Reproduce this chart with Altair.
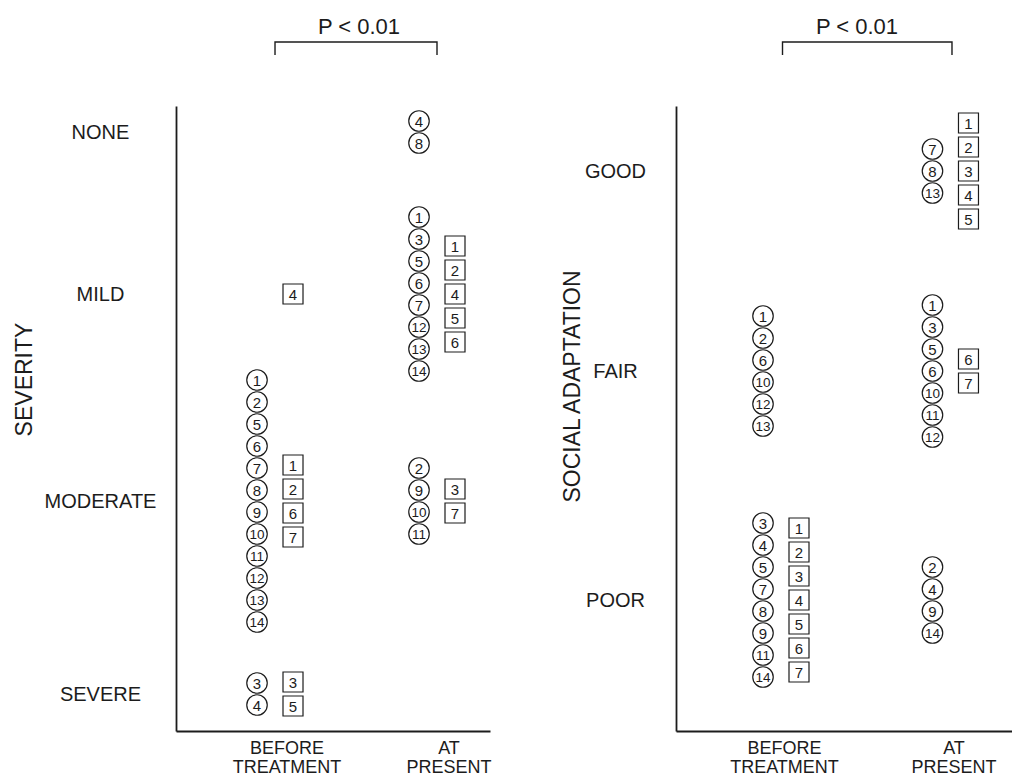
import altair as alt
import pandas as pd

# ---------------- data ----------------
periods = ["BEFORE TREATMENT", "AT PRESENT"]
severity_levels = ["NONE", "MILD", "MODERATE", "SEVERE"]
social_levels = ["GOOD", "FAIR", "POOR"]

circle_ids = list(range(1, 15))
circle_severity_before = ["MODERATE", "MODERATE", "SEVERE", "SEVERE", "MODERATE", "MODERATE", "MODERATE",
                          "MODERATE", "MODERATE", "MODERATE", "MODERATE", "MODERATE", "MODERATE", "MODERATE"]
circle_severity_present = ["MILD", "MODERATE", "MILD", "NONE", "MILD", "MILD", "MILD",
                           "NONE", "MODERATE", "MODERATE", "MODERATE", "MILD", "MILD", "MILD"]
circle_social_before = ["FAIR", "FAIR", "POOR", "POOR", "POOR", "FAIR", "POOR",
                        "POOR", "POOR", "FAIR", "POOR", "FAIR", "FAIR", "POOR"]
circle_social_present = ["FAIR", "POOR", "FAIR", "POOR", "FAIR", "FAIR", "GOOD",
                         "GOOD", "POOR", "FAIR", "FAIR", "FAIR", "GOOD", "POOR"]

square_ids = list(range(1, 8))
square_severity_before = ["MODERATE", "MODERATE", "SEVERE", "MILD", "SEVERE", "MODERATE", "MODERATE"]
square_severity_present = ["MILD", "MILD", "MODERATE", "MILD", "MILD", "MILD", "MODERATE"]
square_social_before = ["POOR", "POOR", "POOR", "POOR", "POOR", "POOR", "POOR"]
square_social_present = ["GOOD", "GOOD", "GOOD", "GOOD", "GOOD", "FAIR", "FAIR"]

p_label = "P < 0.01"
severity_title = "SEVERITY"
social_title = "SOCIAL ADAPTATION"

# ---------------- layout (not data) ----------------
PLOT_H = 625
SEV_ANCHOR = {"NONE": 26, "MILD": 188, "MODERATE": 395, "SEVERE": 588}
SOC_ANCHOR = {"GOOD": 65, "FAIR": 265, "POOR": 494}
SPACING = {"circle": 22, "square": 24}
INK = "#1c1c1c"
FONT = "Liberation Sans"


def build(circ_before, circ_present, sq_before, sq_present, anchors):
    rows = []
    for kind, ids, before, present in [("circle", circle_ids, circ_before, circ_present),
                                       ("square", square_ids, sq_before, sq_present)]:
        for pid, b, p in zip(ids, before, present):
            rows.append(dict(kind=kind, id=pid, period=periods[0], level=b))
            rows.append(dict(kind=kind, id=pid, period=periods[1], level=p))
    df = pd.DataFrame(rows)
    g = df.groupby(["kind", "period", "level"])["id"]
    df["rank"] = g.rank(method="first") - 1
    df["n"] = g.transform("count")
    df["ypos"] = df["level"].map(anchors) + (df["rank"] - (df["n"] - 1) / 2) * df["kind"].map(SPACING)
    df["label"] = df["id"].astype(str)
    return df


def label_expr(anchors):
    expr = "''"
    for name, v in anchors.items():
        expr = f"datum.value == {v} ? '{name}' : ({expr})"
    return expr


def panel(df, anchors, ytitle, width, xscale, x_label_offset, label_pad, title_x, title_y, title_dx):
    x = alt.X("period:N", sort=periods, scale=xscale,
              axis=alt.Axis(title=None, labelExpr="split(datum.label, ' ')", labelAngle=0,
                            labelAlign="center", labelBaseline="top", labelPadding=8,
                            labelFontSize=18, labelLineHeight=19, labelOffset=x_label_offset,
                            labelColor=INK, labelFont=FONT,
                            ticks=False, tickSize=0, domainColor=INK, domainWidth=1.8, grid=False))
    y = alt.Y("ypos:Q", scale=alt.Scale(domain=[0, PLOT_H], reverse=True, nice=False, zero=False),
              axis=alt.Axis(values=list(anchors.values()), labelExpr=label_expr(anchors),
                            labelAlign="center", labelBaseline="middle", labelPadding=label_pad,
                            labelFontSize=20, labelColor=INK, labelFont=FONT, labelOverlap=False,
                            ticks=False, tickSize=0, domainColor=INK, domainWidth=1.8, grid=False,
                            title=ytitle, titleFontSize=23, titleFontWeight="normal", titleFont=FONT,
                            titleColor=INK, titleAngle=270, titleX=title_x, titleY=title_y,
                            titleAlign="center", titleBaseline="middle"))
    xo = alt.XOffset("kind:N", sort=["circle", "square"],
                     scale=alt.Scale(type="point", padding=0.5))
    base = alt.Chart(df)
    symbols = base.mark_point(filled=False, stroke=INK, strokeWidth=1.2, opacity=1).encode(
        x=x, xOffset=xo, y=y,
        shape=alt.Shape("kind:N", scale=alt.Scale(domain=["circle", "square"], range=["circle", "square"]),
                        legend=None),
        size=alt.Size("kind:N", scale=alt.Scale(domain=["circle", "square"], range=[420, 400]), legend=None),
    )
    texts = base.mark_text(baseline="middle", align="center", dy=1, font=FONT, color=INK).encode(
        x=x, xOffset=xo, y=y, text="label:N",
        size=alt.condition("datum.id >= 10", alt.value(13.5), alt.value(15)),
    )
    bracket_df = pd.DataFrame({"period": [periods[0], periods[0], periods[1], periods[1]],
                               "ypos": [-51, -64, -64, -51], "o": [0, 1, 2, 3]})
    bracket = alt.Chart(bracket_df).mark_line(color=INK, strokeWidth=1.4).encode(
        x=x, y=y, order="o:Q")
    return alt.layer(bracket, symbols, texts).properties(
        width=width, height=PLOT_H,
        title=alt.TitleParams(p_label, fontSize=22, font=FONT, fontWeight="normal", color=INK,
                              anchor="middle", dx=title_dx, offset=0),
    )


sev_df = build(circle_severity_before, circle_severity_present,
               square_severity_before, square_severity_present, SEV_ANCHOR)
soc_df = build(circle_social_before, circle_social_present,
               square_social_before, square_social_present, SOC_ANCHOR)

left = panel(sev_df, SEV_ANCHOR, severity_title, 314,
             alt.Scale(paddingInner=0.5556, paddingOuter=0.247, align=0.7875),
             12, 76, -152, 273, 26)
right = panel(soc_df, SOC_ANCHOR, social_title, 336,
              alt.Scale(paddingInner=0.5575, paddingOuter=0.27, align=0.754),
              2, 61, -104, 280, 13)

chart = alt.hconcat(left, right, spacing=186, bounds="flush").properties(
    padding={"left": 5, "top": 8, "right": 0, "bottom": 0}
).configure(font=FONT, background="white").configure_view(stroke=None)

chart.save("out.html", embed_options={"renderer": "svg", "actions": False})
